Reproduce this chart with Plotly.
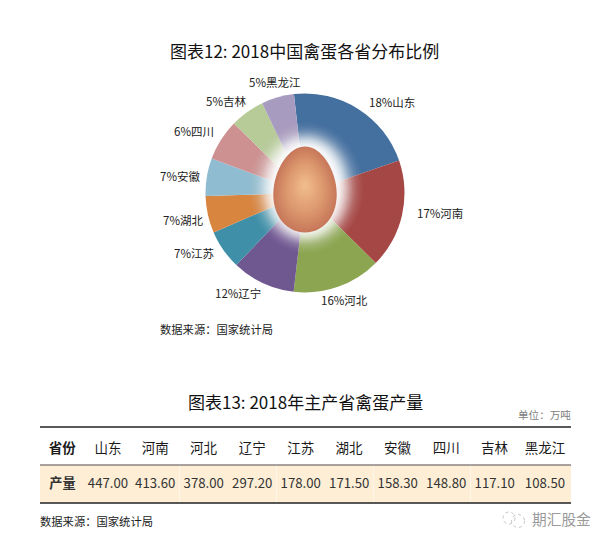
import math
import plotly.graph_objects as go

W = 611
H = 545
FONT = "Noto Sans CJK SC"

provinces = ['山东', '河南', '河北', '辽宁', '江苏', '湖北', '安徽', '四川', '吉林', '黑龙江']
output = ['447.00', '413.60', '378.00', '297.20', '178.00', '171.50', '158.30', '148.80', '117.10', '108.50']
# printed labels do not agree with the slice sizes in the picture, so keep both
labels = ['18%山东', '17%河南', '16%河北', '12%辽宁', '7%江苏', '7%湖北', '7%安徽', '6%四川', '5%吉林', '5%黑龙江']
shares = [21.5, 17.7, 14.4, 10.3, 6.4, 6.0, 6.1, 6.7, 5.6, 5.3]
colors = ['#44709f', '#a54745', '#8ca550', '#6f5790', '#3f8fa9', '#d8853f', '#8fbcd0', '#ce9192', '#b7cb98', '#a89bc0']

label_xy = [(392, 102), (440, 213), (344, 300), (238, 293), (194, 253),
            (183, 220), (180, 176), (194, 131), (226, 101), (275, 82)]


def px(x):
    return x / W


def py(y):
    return 1 - y / H


def text(x, y, s, size=10, color='#222222', anchor='center'):
    return dict(x=px(x), y=py(y), xref='paper', yref='paper', text=s, showarrow=False,
                xanchor=anchor, yanchor='middle', font=dict(family=FONT, size=size, color=color))


def mix(a, b, t):
    return tuple(round(a[i] + (b[i] - a[i]) * t) for i in range(3))


def egg_path(cx, cy, hw, hh):
    pts = []
    for i in range(60):
        t = 2 * math.pi * i / 60
        x = cx + hw * math.sin(t) * (1 - 0.12 * math.cos(t))
        y = cy - hh * math.cos(t)
        pts.append(f"{px(x):.5f},{py(y):.5f}")
    return "M" + "L".join(pts) + "Z"


shapes = []
cx, cy = 305, 193

# white glow around the egg, tighter near the rim
steps = 36
for i in range(steps):
    f = i / (steps - 1)
    hw = 58 - 26 * f
    hh = 66 - 24 * f
    shapes.append(dict(type='circle', xref='paper', yref='paper', layer='above',
                       x0=px(306 - hw), x1=px(306 + hw), y0=py(188 + hh), y1=py(188 - hh),
                       line_width=0, fillcolor=f'rgba(255,255,255,{0.012 + 0.2 * f * f:.3f})'))

# egg, stacked layers from rim to highlight
rim = (200, 120, 90)
mid = (222, 155, 112)
top = (242, 190, 142)
n = 32
for i in range(n):
    f = i / (n - 1)
    c = mix(rim, mid, f / 0.45) if f < 0.45 else mix(mid, top, (f - 0.45) / 0.55)
    s = 1 - f
    shapes.append(dict(type='path', xref='paper', yref='paper', layer='above',
                       path=egg_path(cx, 185 + (189.5 - 185) * s, 31 * s + 0.5, 42.5 * s + 0.5),
                       line_width=0, fillcolor=f'rgb{c}'))

# table rules
for y, c, lw in [(427, '#222222', 1.6), (465, '#8a8580', 1.6), (503, '#222222', 1.6)]:
    shapes.append(dict(type='line', xref='paper', yref='paper', layer='above',
                       x0=px(40), x1=px(571), y0=py(y), y1=py(y), line=dict(color=c, width=lw)))

# wechat mark next to the watermark
for x, y, r in [(509, 518, 6), (518, 521, 6.5)]:
    shapes.append(dict(type='circle', xref='paper', yref='paper', layer='above',
                       x0=px(x - r), x1=px(x + r), y0=py(y + r), y1=py(y - r),
                       line=dict(color='#b5b5b5', width=0.8, dash='dot')))

fig = go.Figure()

fig.add_trace(go.Pie(
    labels=provinces,
    values=shares,
    sort=False,
    direction='clockwise',
    rotation=353.6,
    textinfo='none',
    hoverinfo='label+percent',
    marker=dict(colors=colors, line=dict(width=0)),
    domain=dict(x=[px(cx - 99.5), px(cx + 99.5)], y=[py(cy + 99.5), py(cy - 99.5)]),
))

header_vals = ['省份'] + provinces
cell_vals = ['产量'] + output
# every cell carries a tag, plain strings sit higher in the row than tagged ones
fig.add_trace(go.Table(
    domain=dict(x=[px(40), px(571)], y=[py(504), py(429)]),
    columnwidth=[45, 46] + [48.5] * 8 + [52],
    header=dict(values=[f'<b>{v}</b>' if v == '省份' else f'<span>{v}</span>' for v in header_vals],
                align='center', height=36, fill_color='white',
                line=dict(width=0, color='white'),
                font=dict(family=FONT, size=13.5, color='#1a1a1a')),
    cells=dict(values=[[f'<b>{v}</b>'] if v == '产量' else [f'<span>{v}</span>'] for v in cell_vals],
               align='center', height=38, fill_color='#fdeed5',
               line=dict(width=0, color='#fdeed5'),
               font=dict(family=FONT, size=13.2, color='#333333')),
))

notes = [
    text(304, 50, '图表12: 2018中国禽蛋各省分布比例', size=17, color='#111111'),
    text(305, 401, '图表13: 2018年主产省禽蛋产量', size=17, color='#111111'),
    text(158, 329, '数据来源：国家统计局', size=11.3, anchor='left'),
    text(38, 521, '数据来源：国家统计局', size=11.3, anchor='left'),
    text(573, 414, '单位：万吨', size=10.6, color='#808080', anchor='right'),
    text(530, 518, '期汇股金', size=14.7, color='#9a9a9a', anchor='left'),
]
for s, (x, y) in zip(labels, label_xy):
    notes.append(text(x, y, s, size=11.5))

fig.update_layout(
    width=W,
    height=H,
    margin=dict(l=0, r=0, t=0, b=0),
    paper_bgcolor='white',
    showlegend=False,
    shapes=shapes,
    annotations=notes,
)

# the page's default body margin would push everything 8px in
fig.write_html("out.html", config={'displayModeBar': False},
               post_script="document.body.style.margin = '0';")
